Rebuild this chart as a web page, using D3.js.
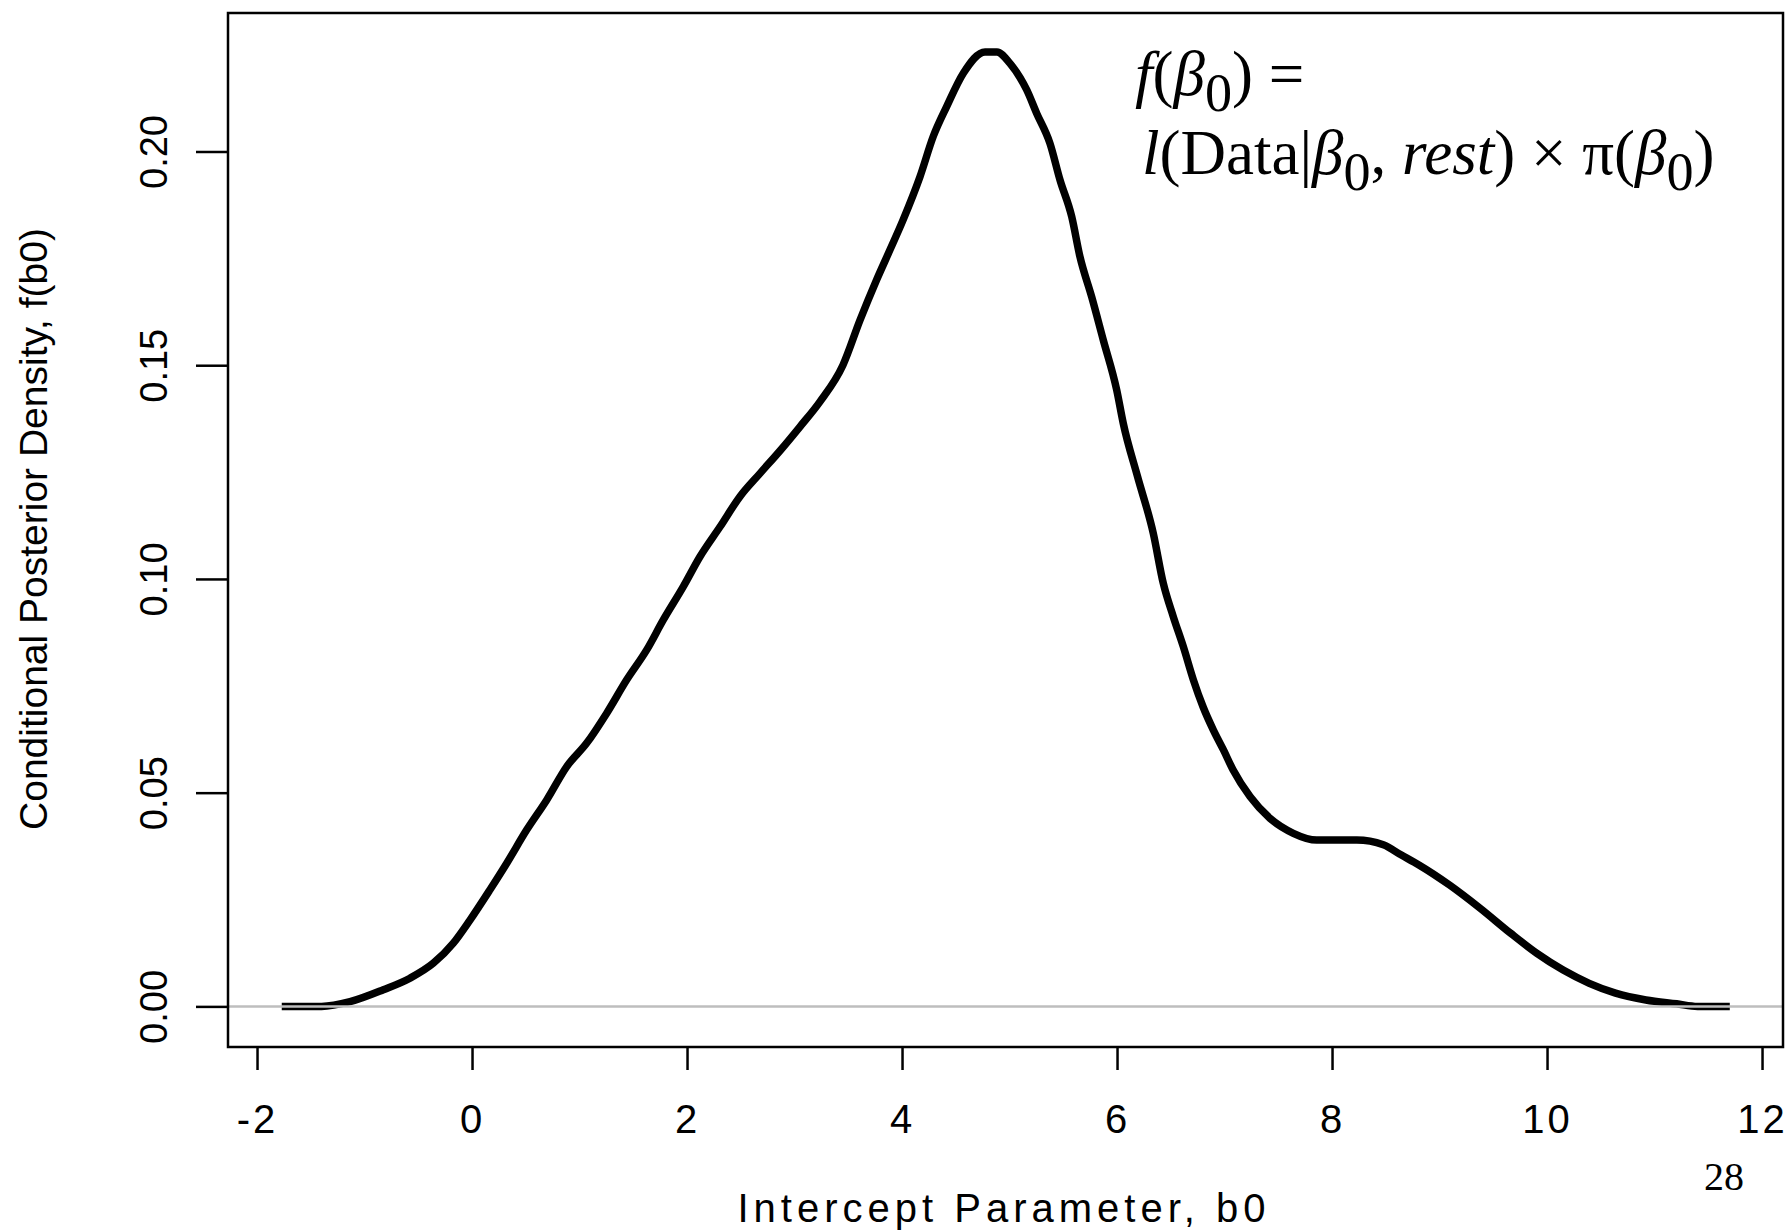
<!DOCTYPE html>
<html>
<head>
<meta charset="utf-8">
<script src="https://cdn.jsdelivr.net/npm/d3@7"></script>
<style>
  html, body { margin: 0; padding: 0; background: #fff; }
  svg { display: block; }
  text { font-family: "Liberation Sans", Arial, Helvetica, sans-serif; fill: #000; }
  .serif, .serif tspan { font-family: "Liberation Serif", "Times New Roman", serif; }
</style>
</head>
<body>
<div id="chart"></div>
<script>
// conditional posterior density of the intercept
const b0 = [
  -1.77, -1.4, -1.135, -0.825, -0.577, -0.36, -0.174, -0.019, 0.167, 0.323,
  0.509, 0.695, 0.881, 1.067, 1.253, 1.439, 1.625, 1.779, 1.965, 2.12,
  2.307, 2.493, 2.679, 2.865, 3.05, 3.237, 3.45, 3.61, 3.764, 3.888,
  4.01, 4.167, 4.29, 4.415, 4.57, 4.772, 4.883, 5.004, 5.16, 5.253,
  5.376, 5.47, 5.578, 5.655, 5.764, 5.872, 5.997, 6.058, 6.19, 6.337,
  6.43, 6.523, 6.616, 6.71, 6.8, 6.895, 6.99, 7.08, 7.237, 7.423,
  7.64, 7.857, 8.23, 8.477, 8.645, 8.808, 9.093, 9.376, 9.662, 9.906,
  10.15, 10.393, 10.637, 10.92, 11.206, 11.4, 11.7
];
const density = [
  0, 0, 0.0011, 0.0039, 0.0066, 0.0101, 0.0148, 0.0202, 0.0273, 0.0335,
  0.0413, 0.0483, 0.0561, 0.0616, 0.0686, 0.0764, 0.0834, 0.0904, 0.0982, 0.1052,
  0.1122, 0.1193, 0.1247, 0.13, 0.1356, 0.1415, 0.15, 0.1606, 0.17, 0.177,
  0.184, 0.1941, 0.2035, 0.2105, 0.2183, 0.2233, 0.2233, 0.2206, 0.2144, 0.2089,
  0.2019, 0.1933, 0.1848, 0.1754, 0.166, 0.1559, 0.1442, 0.1364, 0.124, 0.1107,
  0.099, 0.0912, 0.0842, 0.0764, 0.0701, 0.0647, 0.06, 0.0553, 0.0491, 0.044,
  0.0405, 0.0389, 0.0389, 0.0378, 0.0354, 0.0331, 0.0284, 0.023, 0.0171, 0.0124,
  0.0085, 0.0054, 0.0031, 0.0015, 0.0006, 0, 0
];
const xTicks = [-2, 0, 2, 4, 6, 8, 10, 12];
const yTicks = [0, 0.05, 0.1, 0.15, 0.2];
const xTitle = "Intercept Parameter, b0";
const yTitle = "Conditional Posterior Density, f(b0)";
const pageNumber = "28";

const width = 1785;
const height = 1231;

const points = b0.map((d, i) => ({ x: d, y: density[i] }));

const x = d3.scaleLinear().domain([-2.27, 12.195]).range([228, 1783]);
const y = d3.scaleLinear().domain([-0.0095, 0.2324]).range([1047, 13]);

const svg = d3
  .select("#chart")
  .append("svg")
  .attr("width", width)
  .attr("height", height);

// x axis, ticks hanging under the box
const xAxis = svg
  .append("g")
  .attr("transform", `translate(0,${y.range()[0]})`)
  .call(
    d3.axisBottom(x)
      .tickValues(xTicks)
      .tickSize(23)
      .tickFormat((d) => String(d)) // plain hyphen, as R prints it
  );
xAxis.select(".domain").remove();
xAxis.selectAll("line").attr("stroke", "#000").attr("stroke-width", 2.5);
xAxis
  .selectAll("text")
  .attr("y", 86)
  .attr("dy", 0)
  .attr("dx", 0)
  .style("font-size", "40px")
  .style("letter-spacing", "3px");

// y axis, labels turned on their side like base R
const yAxis = svg
  .append("g")
  .attr("transform", `translate(${x.range()[0]},0)`)
  .call(
    d3.axisLeft(y)
      .tickValues(yTicks)
      .tickSize(32)
      .tickFormat(d3.format(".2f"))
  );
yAxis.select(".domain").remove();
yAxis.selectAll("line").attr("stroke", "#000").attr("stroke-width", 2.5);
yAxis
  .selectAll("text")
  .attr("x", 0)
  .attr("dy", 0)
  .attr("transform", "translate(-61,0) rotate(-90)")
  .attr("text-anchor", "middle")
  .style("font-size", "38px");

// the density curve
const line = d3
  .line()
  .x((d) => x(d.x))
  .y((d) => y(d.y))
  .curve(d3.curveMonotoneX);

svg
  .append("path")
  .datum(points)
  .attr("d", line)
  .attr("fill", "none")
  .attr("stroke", "#000")
  .attr("stroke-width", 7.5)
  .attr("stroke-linejoin", "round");

// abline(h = 0, col = "grey")
svg
  .append("line")
  .attr("x1", x.range()[0])
  .attr("x2", x.range()[1])
  .attr("y1", y(0))
  .attr("y2", y(0))
  .attr("stroke", "#bebebe")
  .attr("stroke-width", 2.5);

// plot box
svg
  .append("rect")
  .attr("x", x.range()[0])
  .attr("y", y.range()[1])
  .attr("width", x.range()[1] - x.range()[0])
  .attr("height", y.range()[0] - y.range()[1])
  .attr("fill", "none")
  .attr("stroke", "#000")
  .attr("stroke-width", 2.5);

// axis titles
svg
  .append("text")
  .attr("x", 1004)
  .attr("y", 1222)
  .attr("text-anchor", "middle")
  .style("font-size", "40px")
  .style("letter-spacing", "5px")
  .text(xTitle);

svg
  .append("text")
  .attr("transform", "translate(47,529) rotate(-90)")
  .attr("text-anchor", "middle")
  .style("font-size", "39px")
  .text(yTitle);

// formula in the corner
const fs = 63;
const sub = fs * 0.86;
const drop = fs * 0.25;
const formula = svg.append("text").attr("class", "serif").style("font-size", fs + "px");

const line1 = formula.append("tspan").attr("x", 1135).attr("y", 95);
line1.append("tspan").style("font-style", "italic").text("f");
line1.append("tspan").text("(");
line1.append("tspan").style("font-style", "italic").text("\u03B2");
line1.append("tspan").attr("dy", drop).style("font-size", sub + "px").text("0");
line1.append("tspan").attr("dy", -drop).text(") =");

const line2 = formula.append("tspan").attr("x", 1142).attr("y", 174);
line2.append("tspan").style("font-style", "italic").text("l");
line2.append("tspan").text("(Data|");
line2.append("tspan").style("font-style", "italic").text("\u03B2");
line2.append("tspan").attr("dy", drop).style("font-size", sub + "px").text("0");
line2.append("tspan").attr("dy", -drop).text(", ");
line2.append("tspan").style("font-style", "italic").text("rest");
line2.append("tspan").text(") \u00D7 \u03C0(");
line2.append("tspan").style("font-style", "italic").text("\u03B2");
line2.append("tspan").attr("dy", drop).style("font-size", sub + "px").text("0");
line2.append("tspan").attr("dy", -drop).text(")");

// slide number
svg
  .append("text")
  .attr("class", "serif")
  .attr("x", 1724)
  .attr("y", 1190)
  .attr("text-anchor", "middle")
  .style("font-size", "40px")
  .text(pageNumber);
</script>
</body>
</html>
